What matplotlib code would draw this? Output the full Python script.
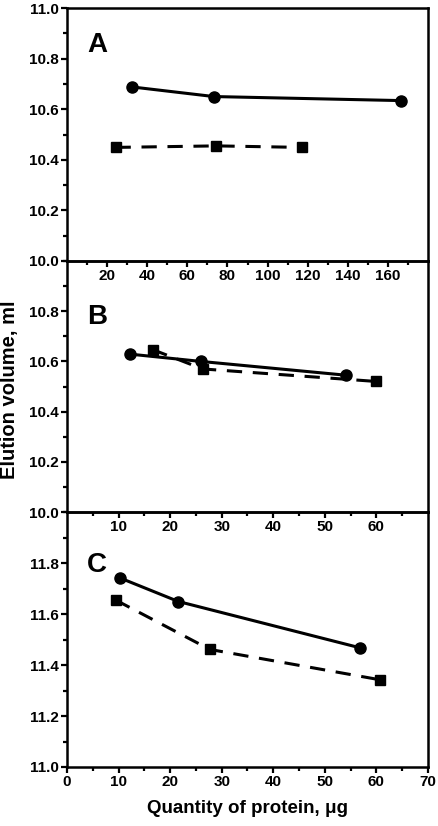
import numpy as np
from matplotlib import pyplot as plt
from matplotlib.ticker import MultipleLocator, FixedLocator

# panel A
a_circ_x = [32.4, 73.2, 166.7]
a_circ_y = [10.688, 10.650, 10.634]
a_sq_x = [24.2, 74.5, 117.0]
a_sq_y = [10.449, 10.455, 10.449]
# panel B
b_circ_x = [12.2, 25.9, 54.1]
b_circ_y = [10.629, 10.600, 10.545]
b_sq_x = [16.6, 26.3, 60.0]
b_sq_y = [10.647, 10.570, 10.520]
# panel C
c_circ_x = [10.2, 21.6, 56.9]
c_circ_y = [11.742, 11.649, 11.467]
c_sq_x = [9.5, 27.7, 60.7]
c_sq_y = [11.654, 11.461, 11.342]

plt.rcParams['font.family'] = ['Liberation Sans', 'DejaVu Sans']
plt.rcParams['font.weight'] = 'bold'

fig = plt.figure(figsize=(4.38, 8.26), dpi=100)
left, width = 67/438, 361/438
pos = [(8, 261), (261, 512), (512, 767)]
axes = []
for top, bot in pos:
    ax = fig.add_axes([left, 1 - bot/826, width, (bot - top)/826])
    ax.patch.set_visible(False)
    axes.append(ax)

panels = [
    ('A', 0.905, a_circ_x, a_circ_y, a_sq_x, a_sq_y, (0, 180), (10.0, 11.0),
     np.arange(20, 161, 20), np.arange(10, 180, 20), np.arange(10.0, 11.01, 0.2)),
    ('B', 0.83, b_circ_x, b_circ_y, b_sq_x, b_sq_y, (0, 70), (10.0, 11.0),
     np.arange(10, 61, 10), np.arange(5, 70, 10), np.arange(10.0, 10.81, 0.2)),
    ('C', 0.845, c_circ_x, c_circ_y, c_sq_x, c_sq_y, (0, 70), (11.0, 12.0),
     np.arange(0, 71, 10), np.arange(5, 70, 10), np.arange(11.0, 11.81, 0.2)),
]

for ax, (lab, ly, cx, cy, sx, sy, xl, yl, xt, xm, yt) in zip(axes, panels):
    ax.plot(cx, cy, '-', color='black', lw=2.2, marker='o', ms=8, zorder=3)
    ax.plot(sx, sy, '--', color='black', lw=2.2, marker='s', ms=6.5,
            dashes=(5, 3.5), zorder=3)
    ax.set_xlim(*xl)
    ax.set_ylim(*yl)
    ax.xaxis.set_major_locator(FixedLocator(xt))
    ax.xaxis.set_minor_locator(FixedLocator(xm))
    ax.yaxis.set_major_locator(FixedLocator(yt))
    ax.yaxis.set_minor_locator(MultipleLocator(0.1))
    ax.set_xticklabels(['%d' % v for v in xt])
    ax.set_yticklabels(['%.1f' % v for v in yt])
    ax.tick_params(which='both', direction='out', width=1.6, labelsize=11,
                   pad=2)
    ax.tick_params(which='major', length=4)
    ax.tick_params(which='minor', length=3)
    for s in ax.spines.values():
        s.set_linewidth(1.8)
    ax.text(0.055, ly, lab, transform=ax.transAxes, fontsize=20,
            fontweight='heavy', va='top', ha='left')

axes[2].set_xlabel('Quantity of protein, μg', fontsize=13.5, fontweight='bold',
                   labelpad=8)
fig.text(0.022, 1 - 390/826, 'Elution volume, ml', rotation=90, fontsize=14.5,
         fontweight='bold', va='center', ha='center')

fig.savefig('out.png', dpi=100)
